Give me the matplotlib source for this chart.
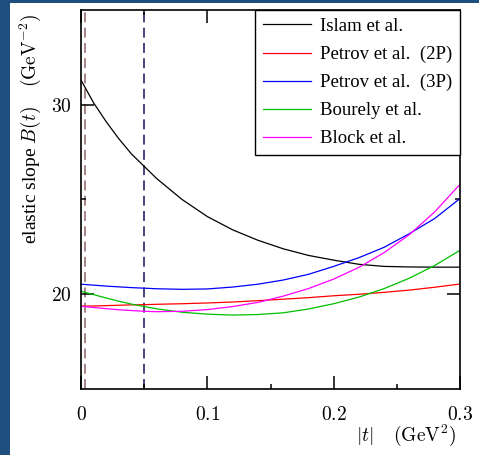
import matplotlib
matplotlib.use("Agg")
import matplotlib.pyplot as plt
from matplotlib.patches import Rectangle
from matplotlib.ticker import FixedLocator, FixedFormatter

plt.rcParams["font.family"] = ["Liberation Serif", "DejaVu Serif"]
plt.rcParams["mathtext.fontset"] = "cm"

# |t| grid (GeV^2) and slope values B(t)
t = [0.0, 0.01, 0.02, 0.03, 0.04, 0.05, 0.06, 0.08, 0.10, 0.12, 0.14,
     0.16, 0.18, 0.20, 0.22, 0.24, 0.26, 0.28, 0.30]
islam = [31.3, 30.1, 29.1, 28.2, 27.4, 26.75, 26.1, 25.0, 24.1, 23.4, 22.85,
         22.4, 22.05, 21.8, 21.58, 21.47, 21.44, 21.43, 21.43]
petrov_2p = [19.37, 19.38, 19.4, 19.42, 19.44, 19.45, 19.47, 19.5, 19.54, 19.59, 19.66,
             19.74, 19.82, 19.92, 20.0, 20.1, 20.22, 20.37, 20.54]
petrov_3p = [20.53, 20.48, 20.43, 20.39, 20.35, 20.32, 20.29, 20.26, 20.28, 20.38, 20.53,
             20.75, 21.05, 21.47, 21.93, 22.48, 23.2, 24.0, 25.05]
bourely = [20.16, 19.98, 19.8, 19.63, 19.48, 19.35, 19.23, 19.05, 18.95, 18.9, 18.93,
           19.02, 19.22, 19.5, 19.85, 20.3, 20.85, 21.52, 22.32]
block = [19.37, 19.3, 19.24, 19.18, 19.14, 19.1, 19.08, 19.1, 19.19, 19.35, 19.57,
         19.9, 20.3, 20.8, 21.42, 22.2, 23.15, 24.35, 25.8]

series = [
    ("Islam et al.", islam, "black"),
    ("Petrov et al.  (2P)", petrov_2p, "#ff0000"),
    ("Petrov et al.  (3P)", petrov_3p, "#0000ff"),
    ("Bourely et al.", bourely, "#00c000"),
    ("Block et al.", block, "#ff00ff"),
]

vlines = [(0.003, "#8c6464"), (0.05, "#14145a")]

x_ticks = [0.0, 0.1, 0.2, 0.3]
x_ticklabels = ["$0$", "$0.1$", "$0.2$", "$0.3$"]
y_ticks = [20, 30]
y_ticklabels = ["$20$", "$30$"]

fig = plt.figure(figsize=(4.79, 4.55), dpi=100)
fig.patch.set_facecolor("#1f4f7e")
fig.patches.append(Rectangle((10 / 479, 0), 1 - 10 / 479, 1 - 3 / 455,
                             transform=fig.transFigure, facecolor="white",
                             edgecolor="none", zorder=-10))

ax = fig.add_axes([81 / 479, 1 - 389 / 455, 379 / 479, 379 / 455])
ax.set_facecolor("white")

for xv, col in vlines:
    ax.axvline(xv, color=col, lw=1.1, dashes=(6.5, 3.5), zorder=1)

for label, vals, col in series:
    ax.plot(t, vals, color=col, lw=0.9, label=label, zorder=2)

ax.set_xlim(0, 0.3)
ax.set_ylim(15, 35)

ax.xaxis.set_major_locator(FixedLocator(x_ticks))
ax.xaxis.set_major_formatter(FixedFormatter(x_ticklabels))
ax.xaxis.set_minor_locator(FixedLocator([0.05, 0.15, 0.25]))
ax.yaxis.set_major_locator(FixedLocator(y_ticks))
ax.yaxis.set_major_formatter(FixedFormatter(y_ticklabels))
ax.yaxis.set_minor_locator(FixedLocator([25]))

ax.tick_params(which="both", direction="in", top=True, right=True, width=1.1)
ax.tick_params(which="major", length=9.5, labelsize=14)
ax.tick_params(which="minor", length=3.8)
ax.tick_params(axis="x", which="major", pad=12)
ax.tick_params(axis="y", which="major", pad=7)
for sp in ax.spines.values():
    sp.set_linewidth(1.2)

ax.text(-0.135, 0.687, r"elastic slope $B(t)$    $(\mathrm{GeV}^{-2})$",
        transform=ax.transAxes, rotation=90, ha="center", va="center", fontsize=14)
ax.text(0.99, -0.121, r"$|t|$    $(\mathrm{GeV}^{2})$",
        transform=ax.transAxes, ha="right", va="center", fontsize=14)

leg = ax.legend(loc="upper right", borderaxespad=0, fontsize=13.5, frameon=True,
                fancybox=False, handlelength=2.6, handletextpad=0.45,
                labelspacing=0.58, borderpad=0.42)
leg.get_frame().set_edgecolor("black")
leg.get_frame().set_linewidth(1.0)
leg.get_frame().set_alpha(1)

fig.savefig("out.png", dpi=100, facecolor=fig.get_facecolor())
